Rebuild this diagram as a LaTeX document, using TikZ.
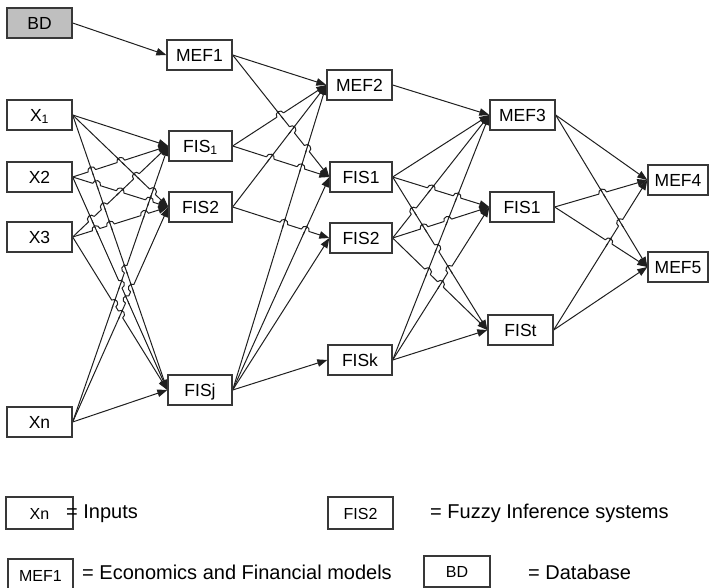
\documentclass[tikz,border=0pt]{standalone}
\usepackage{fontspec}
\setmainfont{Liberation Sans}
\usetikzlibrary{arrows.meta}
\pgfdeclarelayer{wires}
\pgfsetlayers{wires,main}

% every connector runs from the east side of its source to the west side of its target
\newcommand\netlinks{BD/MEFa, X1/FISa, X1/FISb, X1/FISj, X2/FISa, X2/FISb, X2/FISj,
  X3/FISa, X3/FISb, X3/FISj, Xn/FISa, Xn/FISb, Xn/FISj,
  MEFa/MEFb, MEFa/FISc, FISa/MEFb, FISa/FISc, FISb/MEFb, FISb/FISd,
  FISj/MEFb, FISj/FISc, FISj/FISd, FISj/FISk,
  MEFb/MEFc, FISc/MEFc, FISc/FISe, FISc/FISt, FISd/MEFc, FISd/FISe, FISd/FISt,
  FISk/MEFc, FISk/FISe, FISk/FISt,
  MEFc/MEFd, MEFc/MEFe, FISe/MEFd, FISe/MEFe, FISt/MEFd, FISt/MEFe}

\begin{document}
\begin{tikzpicture}[x=1pt,y=-1pt,
  box/.style={draw=black!78, line width=1.3pt, fill=white, minimum width=65pt,
    minimum height=30pt, inner sep=0pt, font=\fontsize{17.5}{20}\selectfont,
    text height=12.6pt, text depth=0pt},
  link/.style={draw=black!88, line width=1pt, -{Triangle[length=10pt,width=7.5pt]}},
  wire/.style={draw=black!88, line width=1pt, line cap=round},
  note/.style={font=\fontsize{20}{24}\selectfont, anchor=base west, inner sep=0pt}]
\useasboundingbox (0,0) rectangle (709,588);

% column 1: database and inputs
\node[box, fill=black!25] (BD) at (39.5,23) {BD};
\node[box] (X1) at (39.5,115) {X\textsubscript{1}};
\node[box] (X2) at (39.5,177) {X2};
\node[box] (X3) at (39.5,237) {X3};
\node[box] (Xn) at (39.5,422) {Xn};

% column 2
\node[box] (MEFa) at (199.5,55) {MEF1};
\node[box, minimum width=63pt] (FISa) at (200.5,146) {FIS\textsubscript{1}};
\node[box, minimum width=63pt] (FISb) at (200.5,207) {FIS2};
\node[box, minimum width=64pt] (FISj) at (200,390) {FISj};

% column 3
\node[box] (MEFb) at (359.5,85) {MEF2};
\node[box, minimum width=62pt] (FISc) at (361,177) {FIS1};
\node[box, minimum width=62pt] (FISd) at (361,238) {FIS2};
\node[box, minimum width=64pt] (FISk) at (360,360) {FISk};

% column 4
\node[box] (MEFc) at (522.5,115) {MEF3};
\node[box, minimum width=64pt] (FISe) at (522,207) {FIS1};
\node[box] (FISt) at (520.5,330) {FISt};

% column 5
\node[box, minimum width=60pt] (MEFd) at (678,180) {MEF4};
\node[box, minimum width=60pt] (MEFe) at (678,267) {MEF5};

\begin{pgfonlayer}{wires}
\foreach \a/\b in \netlinks {\draw[link] (\a.east) -- (\b.west);}
% line jumps: the flatter of two crossing connectors hops over the steeper one
\foreach \a/\b in \netlinks {
  \foreach \c/\d in \netlinks {
    \path (\a.east); \pgfgetlastxy{\hpAx}{\hpAy}
    \path (\b.west); \pgfgetlastxy{\hpBx}{\hpBy}
    \path (\c.east); \pgfgetlastxy{\hpCx}{\hpCy}
    \path (\d.west); \pgfgetlastxy{\hpDx}{\hpDy}
    \pgfmathsetmacro\hprx{(\hpBx-\hpAx)/100}
    \pgfmathsetmacro\hpry{(\hpBy-\hpAy)/100}
    \pgfmathsetmacro\hpsx{(\hpDx-\hpCx)/100}
    \pgfmathsetmacro\hpsy{(\hpDy-\hpCy)/100}
    \pgfmathsetmacro\hpqx{(\hpCx-\hpAx)/100}
    \pgfmathsetmacro\hpqy{(\hpCy-\hpAy)/100}
    \pgfmathsetmacro\hpden{(\hprx)*(\hpsy)-(\hpry)*(\hpsx)}
    \pgfmathparse{abs(\hpden)>0.01 ? 1 : 0}
    \ifdim\pgfmathresult pt>0.5pt
      \pgfmathsetmacro\hpT{((\hpqx)*(\hpsy)-(\hpqy)*(\hpsx))/(\hpden)}
      \pgfmathsetmacro\hpU{((\hpqx)*(\hpry)-(\hpqy)*(\hprx))/(\hpden)}
      \pgfmathparse{(\hpT>0.06)*(\hpT<0.94)*(\hpU>0.06)*(\hpU<0.94)*(abs((\hpry)*(\hpsx))<abs((\hpsy)*(\hprx)))}
      \ifdim\pgfmathresult pt>0.5pt
        \pgfmathsetmacro\hpPx{\hpAx+(\hpT)*(\hpBx-\hpAx)}
        \pgfmathsetmacro\hpPy{\hpAy+(\hpT)*(\hpBy-\hpAy)}
        \pgfmathsetmacro\hpTh{atan2(\hpry,\hprx)}
        \pgfmathsetmacro\hpPh{atan2(\hpsy,\hpsx)}
        \pgfmathsetmacro\hpSx{\hpPx-4*cos(\hpTh)}
        \pgfmathsetmacro\hpSy{\hpPy-4*sin(\hpTh)}
        \pgfmathsetmacro\hpEx{\hpPx+4*cos(\hpTh)}
        \pgfmathsetmacro\hpEy{\hpPy+4*sin(\hpTh)}
        \pgfmathsetmacro\hpFx{\hpPx-5*cos(\hpPh)}
        \pgfmathsetmacro\hpFy{\hpPy-5*sin(\hpPh)}
        \pgfmathsetmacro\hpGx{\hpPx+5*cos(\hpPh)}
        \pgfmathsetmacro\hpGy{\hpPy+5*sin(\hpPh)}
        \draw[white, line width=2.8pt] (\hpSx pt,\hpSy pt) -- (\hpEx pt,\hpEy pt);
        \draw[wire] (\hpFx pt,\hpFy pt) -- (\hpGx pt,\hpGy pt);
        \draw[wire] (\hpSx pt,\hpSy pt) arc[start angle=\hpTh+180, end angle=\hpTh, radius=4pt];
      \fi
    \fi
  }
}
\end{pgfonlayer}

% key
\node[box, minimum width=67pt, minimum height=32pt, font=\fontsize{16}{19}\selectfont] (keyX) at (39.5,513) {Xn};
\node[note] (keyXt) at (66,518.5) {= Inputs};
\node[box, minimum height=32pt, font=\fontsize{16}{19}\selectfont] (keyF) at (360.5,513) {FIS2};
\node[note] (keyFt) at (430,518.5) {= Fuzzy Inference systems};
\node[box, minimum height=32pt, font=\fontsize{16}{19}\selectfont] (keyM) at (40.5,575) {MEF1};
\node[note] (keyMt) at (82,579.5) {= Economics and Financial models};
\node[box, minimum width=66pt, minimum height=31pt, font=\fontsize{16}{19}\selectfont] (keyB) at (457,571.5) {BD};
\node[note] (keyBt) at (528,579.5) {= Database};
\end{tikzpicture}
\end{document}
